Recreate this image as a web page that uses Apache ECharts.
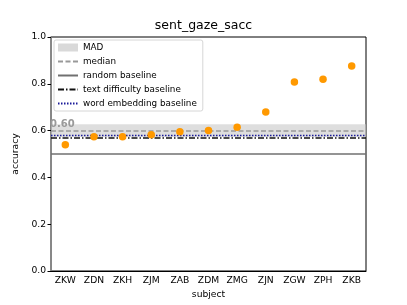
<!DOCTYPE html>
<html><head><meta charset="utf-8">
<script src="https://cdn.jsdelivr.net/npm/echarts@6/dist/echarts.min.js"></script>
<style>html,body{margin:0;padding:0;background:#fff}#c{width:407px;height:305px}</style>
</head><body><div id="c"></div>
<script>
var subjects = ['ZKW','ZDN','ZKH','ZJM','ZAB','ZDM','ZMG','ZJN','ZGW','ZPH','ZKB'];
var accuracy = [0.540,0.574,0.574,0.582,0.595,0.600,0.614,0.679,0.808,0.819,0.876];
var medianValue = 0.600;
var madValue = 0.027;
var randomBaseline = 0.5;
var textDifficultyBaseline = 0.572;
var wordEmbeddingBaseline = 0.578;
var yTicks = [0.0,0.2,0.4,0.6,0.8,1.0];

var font = 'DejaVu Sans';
var chart = echarts.init(document.getElementById('c'), null, {renderer:'canvas'});

function baseSeries(name, value, ls, z) {
  return {
    name: name, type: 'line', data: [], symbol: 'none', z: z,
    lineStyle: ls, itemStyle: {color: ls.color},
    markLine: {
      silent: true, symbol: ['none','none'], animation: false,
      label: {show: false},
      lineStyle: ls,
      data: [{yAxis: value}]
    }
  };
}

var medSeries = baseSeries('median', medianValue, {color:'#999999', type:[5,2.5], width:1.5}, 3);
medSeries.markLine.label = {
  show: true, position: 'insideStartTop', formatter: medianValue.toFixed(2),
  color: '#9a9a9a', fontWeight: 'bold', fontSize: 10, fontFamily: font, distance: [-1, 1]
};

var option = {
  animation: false,
  title: {text: 'sent_gaze_sacc', left: 'center', top: 14,
    textStyle: {fontFamily: font, fontSize: 12.5, fontWeight: 'normal', color: '#000'}},
  grid: {left: 51, right: 41, top: 37, bottom: 34, show: true, borderColor: '#000', borderWidth: 1, backgroundColor: 'transparent'},
  legend: {
    orient: 'vertical', left: 54, top: 40,
    backgroundColor: 'rgba(255,255,255,0.85)', borderColor: '#d6d6d6', borderWidth: 1, borderRadius: 2,
    padding: [3, 6, 3, 3], itemGap: 5, itemWidth: 20, itemHeight: 8,
    itemStyle: {opacity: 0},
    textStyle: {fontFamily: font, fontSize: 8.8, color: '#000'},
    data: [
      {name: 'MAD', icon: 'rect', itemStyle: {color: '#d9d9d9', opacity: 1}},
      {name: 'median'},
      {name: 'random baseline'},
      {name: 'text difficulty baseline'},
      {name: 'word embedding baseline'}
    ]
  },
  xAxis: {
    type: 'category', data: subjects, boundaryGap: true,
    name: 'subject', nameLocation: 'middle', nameGap: 19,
    nameTextStyle: {fontFamily: font, fontSize: 9.2, color: '#000'},
    axisLine: {lineStyle: {color: '#000', width: 1}},
    axisTick: {alignWithLabel: true, length: 3.5, lineStyle: {color: '#000'}},
    axisLabel: {fontFamily: font, fontSize: 9.2, color: '#000', margin: 5, interval: 0},
    splitLine: {show: false}
  },
  yAxis: {
    type: 'value', min: 0, max: 1, interval: 0.2,
    name: 'accuracy', nameLocation: 'middle', nameGap: 26,
    nameTextStyle: {fontFamily: font, fontSize: 9.2, color: '#000'},
    axisLine: {show: true, lineStyle: {color: '#8a8a8a', width: 1.6}},
    axisTick: {show: true, length: 3.5, lineStyle: {color: '#000'}},
    axisLabel: {fontFamily: font, fontSize: 9.2, color: '#000', margin: 5,
      formatter: function(v){ return v.toFixed(1); }},
    splitLine: {show: false}
  },
  series: [
    {
      name: 'MAD', type: 'bar', data: [], z: 1,
      itemStyle: {color: '#d9d9d9'},
      markArea: {silent: true, itemStyle: {color: 'rgba(200,200,200,0.6)'},
        data: [[{yAxis: medianValue - madValue}, {yAxis: medianValue + madValue}]]}
    },
    medSeries,
    baseSeries('random baseline', randomBaseline, {color:'#707070', type:'solid', width:1.6}, 3),
    baseSeries('text difficulty baseline', textDifficultyBaseline, {color:'#111111', type:[6,2,1.5,2], width:1.6}, 4),
    baseSeries('word embedding baseline', wordEmbeddingBaseline, {color:'#1a1a99', type:[1.5,1.5], width:1.4}, 4),
    {
      name: 'accuracy', type: 'scatter', data: accuracy, symbol: 'circle', symbolSize: 7.5, z: 10,
      itemStyle: {color: '#ff9900', opacity: 1}
    }
  ]
};
chart.setOption(option);
</script></body></html>
